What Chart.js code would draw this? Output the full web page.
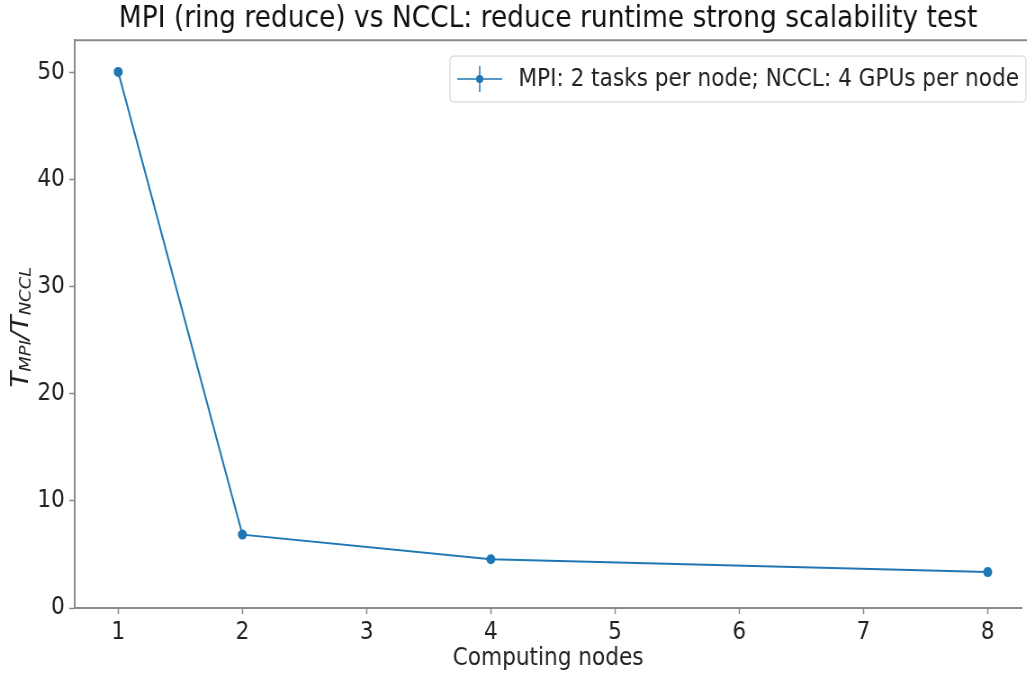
<!DOCTYPE html>
<html>
<head>
<meta charset="utf-8">
<script src="https://cdn.jsdelivr.net/npm/chart.js@4.4.0/dist/chart.umd.min.js"></script>
<style>
  html, body { margin: 0; padding: 0; overflow: hidden; background: #fff; }
  #wrap { width: 1141px; height: 673px; transform: scaleX(0.9); transform-origin: 0 0; }
</style>
</head>
<body>
<div id="wrap"><canvas id="myChart"></canvas></div>
<script>
'use strict';

// values
const nodes = [1, 2, 4, 8];
const ratio = [50.05, 6.85, 4.55, 3.35];
const xTicks = [1, 2, 3, 4, 5, 6, 7, 8];
const yTicks = [0, 10, 20, 30, 40, 50];
const seriesLabel = 'MPI: 2 tasks per node; NCCL: 4 GPUs per node';
const titleText = 'MPI (ring reduce) vs NCCL: reduce runtime strong scalability test';

const blue = '#1f77b4';
const spine = '#8a8a8a';
const font = 'DejaVu Sans';

// top spine + y label with subscripts + legend box
const extras = {
  id: 'extras',
  afterDraw(chart) {
    const ctx = chart.ctx;
    const a = chart.chartArea;
    ctx.save();
    ctx.strokeStyle = spine;
    ctx.lineWidth = 2;
    ctx.beginPath();
    ctx.moveTo(a.left, a.top);
    ctx.lineTo(chart.width, a.top);
    ctx.stroke();

    // y axis label: T_MPI / T_NCCL
    const parts = [
      {t: 'T', size: 26, dy: 0},
      {t: 'MPI', size: 18, dy: 5},
      {t: '/T', size: 26, dy: 0},
      {t: 'NCCL', size: 18, dy: 5}
    ];
    let w = 0;
    parts.forEach(p => {
      ctx.font = 'italic ' + p.size + 'px ' + font;
      p.w = ctx.measureText(p.t).width;
      w += p.w;
    });
    ctx.translate(24, (a.top + a.bottom) / 2 + 3);
    ctx.rotate(-Math.PI / 2);
    ctx.fillStyle = '#222';
    ctx.textBaseline = 'middle';
    let x = -w / 2;
    parts.forEach(p => {
      ctx.font = 'italic ' + p.size + 'px ' + font;
      ctx.fillText(p.t, x, p.dy);
      x += p.w;
    });
    ctx.restore();

    // legend
    ctx.save();
    const bx = 500, by = 56, bw = 640, bh = 46;
    ctx.fillStyle = 'rgba(255,255,255,0.85)';
    ctx.strokeStyle = '#d0d0d0';
    ctx.lineWidth = 1;
    ctx.beginPath();
    ctx.roundRect(bx, by, bw, bh, 4);
    ctx.fill();
    ctx.stroke();
    const ly = by + bh / 2;
    ctx.strokeStyle = blue;
    ctx.lineWidth = 1.5;
    ctx.beginPath();
    ctx.moveTo(508, ly);
    ctx.lineTo(558, ly);
    ctx.moveTo(533, ly - 13);
    ctx.lineTo(533, ly + 13);
    ctx.stroke();
    ctx.fillStyle = blue;
    ctx.beginPath();
    ctx.arc(533, ly, 4, 0, Math.PI * 2);
    ctx.fill();
    ctx.fillStyle = '#222';
    ctx.font = '24px ' + font;
    ctx.textBaseline = 'middle';
    ctx.fillText(chart.data.datasets[0].label, 576, ly + 1);
    ctx.restore();
  }
};

const ctx = document.getElementById('myChart').getContext('2d');
const myChart = new Chart(ctx, {
  type: 'line',
  data: {
    datasets: [{
      label: seriesLabel,
      data: nodes.map((n, i) => ({x: n, y: ratio[i]})),
      borderColor: blue,
      backgroundColor: blue,
      borderWidth: 2,
      pointRadius: 4,
      pointHoverRadius: 4,
      fill: false,
      tension: 0
    }]
  },
  options: {
    responsive: true,
    maintainAspectRatio: false,
    animation: false,
    layout: {padding: 0},
    plugins: {
      legend: {display: false},
      tooltip: {enabled: false},
      title: {
        display: true,
        fullSize: false,
        text: titleText,
        color: '#111',
        font: {family: font, size: 29.4, weight: 'normal'},
        padding: {top: 2, bottom: 3}
      }
    },
    scales: {
      x: {
        type: 'linear',
        min: 0.65,
        max: 8.272,
        afterBuildTicks: axis => { axis.ticks = xTicks.map(v => ({value: v})); },
        afterFit: axis => { axis.height = 65; },
        grid: {drawOnChartArea: false, tickLength: 6, tickColor: spine, tickWidth: 1.5},
        border: {color: spine, width: 2},
        ticks: {color: '#222', font: {family: font, size: 24}, padding: 4, maxRotation: 0},
        title: {
          display: true,
          text: 'Computing nodes',
          color: '#222',
          font: {family: font, size: 24},
          padding: {top: 0, bottom: 0}
        }
      },
      y: {
        min: 0,
        max: 53,
        afterBuildTicks: axis => { axis.ticks = yTicks.map(v => ({value: v})); },
        afterFit: axis => { axis.width = 83; },
        grid: {drawOnChartArea: false, tickLength: 6, tickColor: spine, tickWidth: 1.5},
        border: {color: spine, width: 2},
        ticks: {color: '#222', font: {family: font, size: 24}, padding: 5}
      }
    }
  },
  plugins: [extras]
});
</script>
</body>
</html>
